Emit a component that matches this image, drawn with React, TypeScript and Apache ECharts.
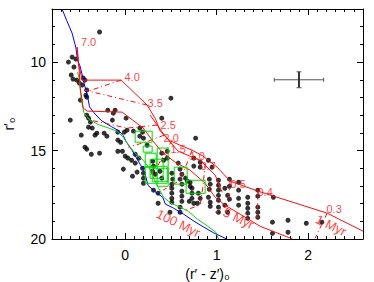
import React, { useEffect, useRef } from "react";
import * as echarts from "echarts";

// ---- axes ----
const xRange = [-0.8, 2.6];
const yRange = [7, 20];
const xMajor = [0, 1, 2];
const yMajor = [10, 15, 20];

// ---- observed stars (r'-z')0 , r'0 ----
const stars: [number, number][] = [
  [-0.28, 8.3], [-0.62, 10.0], [-0.58, 9.72], [-0.54, 9.83], [-0.56, 10.28],
  [-0.59, 10.73], [-0.57, 10.96], [-0.53, 11.02], [-0.46, 10.9], [-0.44, 11.02],
  [-0.5, 11.19], [-0.47, 11.3], [-0.42, 11.58], [-0.43, 11.87], [-0.42, 11.98],
  [-0.49, 12.15], [0.5, 12.04], [-0.19, 12.72], [-0.11, 12.72], [-0.13, 12.89],
  [-0.6, 13.28], [-0.42, 13.0], [-0.4, 13.17], [-0.38, 13.39], [-0.14, 13.28],
  [0.01, 13.17], [0.4, 13.17], [-0.4, 13.68], [-0.36, 13.73], [-0.31, 14.02],
  [-0.33, 14.13], [-0.48, 14.13], [-0.23, 14.02], [-0.2, 14.19], [-0.08, 13.96],
  [-0.01, 13.96], [0.02, 13.85], [0.09, 13.9], [0.16, 13.73], [0.19, 13.96],
  [0.16, 14.19], [0.2, 14.3], [-0.44, 14.81], [-0.42, 14.92], [-0.37, 15.21],
  [-0.28, 15.15], [-0.08, 14.41], [-0.05, 14.53], [-0.08, 15.04], [-0.03, 15.04],
  [0.0, 15.32], [0.03, 15.43], [0.07, 15.55], [0.11, 15.71], [0.11, 15.21],
  [0.15, 15.43], [-0.02, 16.05], [0.08, 16.45], [0.13, 16.22], [0.19, 16.0],
  [0.2, 16.28], [0.2, 16.56], [0.2, 16.85], [0.3, 15.6], [0.31, 15.88],
  [0.3, 16.17], [0.33, 16.34], [0.38, 16.17], [0.4, 16.56], [0.46, 15.04],
  [0.46, 15.43], [0.51, 16.28], [0.52, 16.62], [0.51, 16.9], [0.6, 16.05],
  [0.62, 16.34], [0.6, 16.62], [0.62, 16.9], [0.62, 17.3], [0.62, 17.58],
  [0.62, 17.87], [0.66, 16.56], [0.68, 16.73], [0.77, 14.3], [0.24, 14.7],
  [0.4, 15.15], [0.42, 15.55], [0.58, 15.71], [0.82, 15.66], [0.82, 15.94],
  [0.91, 15.55], [0.95, 15.94], [0.51, 17.13], [0.51, 17.41], [0.51, 17.7],
  [0.51, 17.92], [0.6, 18.2], [0.6, 18.49], [0.71, 16.79], [0.73, 17.13],
  [0.73, 17.41], [0.73, 17.7], [0.8, 17.41], [0.82, 17.7], [0.91, 17.64],
  [0.93, 17.92], [0.31, 17.24], [0.36, 17.41], [0.36, 17.98], [0.49, 18.49],
  [0.79, 17.98], [0.75, 15.43], [0.75, 15.88], [0.71, 17.02], [0.7, 17.87],
  [0.75, 17.98], [0.92, 16.62], [0.93, 16.9], [0.92, 17.19], [0.93, 18.15],
  [1.02, 16.68], [1.02, 16.96], [1.02, 17.24], [1.02, 17.53], [1.02, 17.81],
  [1.02, 18.2], [1.02, 18.49], [1.09, 17.13], [1.12, 17.53], [1.09, 18.09],
  [1.12, 18.49], [1.14, 16.62], [1.14, 17.02], [1.14, 17.75], [1.24, 16.79],
  [1.24, 17.24], [1.24, 17.7], [1.24, 18.09], [1.34, 17.64], [1.34, 17.98],
  [1.34, 18.26], [1.34, 18.54], [1.34, 18.83], [1.45, 17.24], [1.45, 17.58],
  [1.45, 18.2], [1.45, 18.49], [1.45, 18.77], [1.62, 17.64], [1.61, 19.05],
  [1.61, 19.68], [1.78, 18.94], [1.78, 19.62], [1.98, 19.11], [2.15, 19.05],
];

// ---- model tracks ----
const blueTrack: [number, number][] = [
  [-0.69, 7.0], [-0.64, 7.64], [-0.58, 8.37], [-0.54, 9.16], [-0.52, 9.89],
  [-0.49, 10.28], [-0.45, 11.18], [-0.41, 11.97], [-0.39, 12.53], [-0.34, 12.87],
  [-0.26, 13.31], [-0.15, 13.65], [-0.07, 13.88], [-0.02, 14.16], [0.01, 14.49],
  [0.07, 14.94], [0.12, 15.39], [0.17, 15.84], [0.21, 16.18], [0.25, 16.97],
  [0.32, 17.3], [0.41, 17.64], [0.44, 18.03], [0.53, 18.26], [0.64, 18.6],
  [0.75, 18.99], [0.86, 19.33], [0.97, 19.66], [1.11, 20.0],
];
const greenTrack: [number, number][] = [
  [-0.52, 10.56], [-0.5, 11.01], [-0.48, 12.13], [-0.45, 12.87], [-0.39, 13.26],
  [-0.29, 13.54], [-0.19, 13.71], [-0.08, 13.93], [-0.02, 14.27], [0.04, 14.72],
  [0.12, 15.22], [0.2, 15.56], [0.26, 15.96], [0.32, 16.63], [0.36, 17.08],
  [0.42, 17.64], [0.5, 17.98], [0.58, 18.15], [0.69, 18.43], [0.79, 18.88],
  [0.9, 19.27], [0.99, 19.61], [1.02, 20.0],
];
const iso1Myr: [number, number][] = [
  [-0.525, 9.15], [-0.514, 10.0], [-0.47, 11.02], [-0.044, 11.02], [0.24, 12.43],
  [0.33, 13.2], [0.383, 13.9], [0.49, 14.45], [0.601, 14.7], [0.732, 14.98],
  [0.852, 15.32], [1.005, 15.94], [1.148, 16.73], [1.454, 17.3], [2.208, 18.54],
  [2.601, 19.56],
];
const iso2Myr: [number, number][] = [
  [0.273, 13.0], [0.437, 14.19], [0.579, 15.04], [0.82, 15.55], [0.984, 16.39],
  [1.06, 17.36],
];
const iso5Myr: [number, number][] = [
  [-0.525, 9.15], [-0.503, 10.45], [-0.492, 11.47], [-0.459, 12.6], [-0.415, 12.77],
  [-0.033, 12.83], [0.197, 13.73], [0.295, 14.41], [0.404, 15.09], [0.546, 15.66],
  [0.71, 16.11], [0.874, 16.85], [0.984, 17.64], [1.093, 18.09], [1.257, 18.6],
  [1.475, 19.28], [1.83, 20.0],
];
const massTracks: [number, number][][] = [
  [[-0.044, 11.02], [-0.404, 11.64]],
  [[0.24, 12.43], [-0.448, 11.58]],
  [[0.35, 13.56], [0.022, 13.73], [-0.383, 13.28]],
  [[0.426, 14.13], [0.219, 14.53], [0.033, 14.81]],
  [[0.514, 14.41], [0.328, 16.11], [0.219, 16.68]],
  [[0.732, 14.98], [0.601, 16.68], [0.415, 17.24]],
  [[0.874, 15.72], [0.852, 16.96], [0.82, 18.09], [0.656, 18.37]],
  [[1.148, 16.73], [1.126, 18.09], [0.984, 18.49]],
  [[1.454, 17.3], [1.443, 18.83]],
  [[2.208, 18.54], [2.077, 19.96]],
];

// ---- green boxes: centre x, centre y, half width, half height ----
const greenBoxes: [number, number, number, number][] = [
  [0.202, 14.22, 0.093, 0.31],
  [0.246, 14.92, 0.049, 0.17],
  [0.279, 15.55, 0.06, 0.4],
  [0.344, 16.03, 0.071, 0.54],
  [0.41, 15.94, 0.06, 1.08],
  [0.339, 16.37, 0.12, 0.48],
  [0.607, 16.42, 0.071, 0.48],
  [0.77, 17.05, 0.104, 0.37],
  [0.383, 16.37, 0.087, 0.37],
];

// ---- typical error bar: x, y, dx, dy ----
const errorBar: [number, number, number, number][] = [[1.9, 11.0, 0.27, 0.45]];

// ---- labels ----
const massLabels: [number, number, string][] = [
  [-0.4, 8.87, "7.0"], [0.077, 10.85, "4.0"], [0.328, 12.32, "3.5"],
  [0.47, 13.58, "2.5"], [0.503, 14.3, "2.0"], [0.579, 14.9, "1.5"],
  [0.787, 15.3, "1.0"], [0.907, 15.85, "0.7"], [1.235, 16.9, "0.5"],
  [1.53, 17.36, "0.4"], [2.284, 18.32, "0.3"],
];
const ageLabels: [number, number, string][] = [
  [0.58, 19.11, "100 Myr"], [1.24, 18.83, "5 Myr"], [2.25, 19.22, "1 Myr"],
];

const RED = "#ff0c0c";
const FONT = "Liberation Sans, Arial, sans-serif";

function makeX(position: string, major: boolean, labels: boolean): any {
  return {
    type: "value",
    position,
    min: xRange[0],
    max: xRange[1],
    ...(major ? {} : { interval: 0.1 }),
    axisLine: { show: major, onZero: false, lineStyle: { color: "#000", width: 1 } },
    axisTick: major
      ? { show: true, inside: true, length: 6, customValues: xMajor, lineStyle: { color: "#000" } }
      : { show: true, inside: true, length: 3, lineStyle: { color: "#000" } },
    axisLabel: labels
      ? { show: true, customValues: xMajor, color: "#000", fontSize: 14, fontFamily: FONT, margin: 9 }
      : { show: false },
    splitLine: { show: false },
    ...(labels
      ? {
          name: "(r\u2032 - z\u2032)\u2080",
          nameLocation: "middle",
          nameGap: 26,
          nameTextStyle: { color: "#000", fontSize: 14, fontFamily: FONT },
        }
      : {}),
  };
}

function makeY(position: string, major: boolean, labels: boolean): any {
  return {
    type: "value",
    position,
    inverse: true,
    min: yRange[0],
    max: yRange[1],
    ...(major ? {} : { interval: 1 }),
    axisLine: { show: major, onZero: false, lineStyle: { color: "#000", width: 1 } },
    axisTick: major
      ? { show: true, inside: true, length: 6, customValues: yMajor, lineStyle: { color: "#000" } }
      : { show: true, inside: true, length: 3, lineStyle: { color: "#000" } },
    axisLabel: labels
      ? { show: true, customValues: yMajor, color: "#000", fontSize: 14, fontFamily: FONT, margin: 6 }
      : { show: false },
    splitLine: { show: false },
    ...(labels
      ? {
          name: "r\u2032\u2080",
          nameLocation: "middle",
          nameGap: 36,
          nameRotate: 90,
          nameTextStyle: { color: "#000", fontSize: 14, fontFamily: FONT },
        }
      : {}),
  };
}

export default function App() {
  const ref = useRef<HTMLDivElement>(null);
  useEffect(() => {
    document.body.style.margin = "0";
    if (!ref.current) return;
    const chart = echarts.init(ref.current, null, { renderer: "svg" });
    const lineSeries = (data: [number, number][], color: string, type: any = "solid", z = 3) => ({
      type: "line",
      data,
      symbol: "none",
      silent: true,
      lineStyle: { color, width: 1, type },
      z,
    });
    chart.setOption({
      animation: false,
      backgroundColor: "#fff",
      grid: { left: 52, right: 11, top: 9, bottom: 43, containLabel: false, outerBoundsMode: "none" },
      xAxis: [
        makeX("bottom", true, true),
        makeX("bottom", false, false),
        makeX("top", true, false),
        makeX("top", false, false),
      ],
      yAxis: [
        makeY("left", true, true),
        makeY("left", false, false),
        makeY("right", true, false),
        makeY("right", false, false),
      ],
      series: [
        {
          type: "scatter",
          data: stars,
          symbol: "circle",
          symbolSize: 5,
          itemStyle: { color: "#000" },
          silent: true,
          z: 2,
        },
        lineSeries(blueTrack, "#0000ff"),
        lineSeries(greenTrack, "#11cc11"),
        lineSeries(iso1Myr, RED),
        lineSeries(iso2Myr, RED),
        lineSeries(iso5Myr, RED),
        ...massTracks.map((t) => lineSeries(t, RED, [5, 3, 1, 3])),
        {
          type: "custom",
          data: greenBoxes,
          encode: { x: 0, y: 1 },
          silent: true,
          z: 4,
          renderItem: (_p: any, api: any) => {
            const cx = api.value(0), cy = api.value(1), hw = api.value(2), hh = api.value(3);
            const a = api.coord([cx - hw, cy - hh]);
            const b = api.coord([cx + hw, cy + hh]);
            return {
              type: "rect",
              shape: {
                x: Math.min(a[0], b[0]),
                y: Math.min(a[1], b[1]),
                width: Math.abs(b[0] - a[0]),
                height: Math.abs(b[1] - a[1]),
              },
              style: { fill: "none", stroke: "#00dd00", lineWidth: 1 },
            };
          },
        },
        {
          type: "custom",
          data: errorBar,
          encode: { x: 0, y: 1 },
          silent: true,
          z: 4,
          renderItem: (_p: any, api: any) => {
            const cx = api.value(0), cy = api.value(1), dx = api.value(2), dy = api.value(3);
            const l = api.coord([cx - dx, cy]);
            const r = api.coord([cx + dx, cy]);
            const t = api.coord([cx, cy - dy]);
            const b = api.coord([cx, cy + dy]);
            const st = { stroke: "#555", lineWidth: 1 };
            return {
              type: "group",
              children: [
                { type: "line", shape: { x1: l[0], y1: l[1], x2: r[0], y2: r[1] }, style: st },
                { type: "line", shape: { x1: l[0], y1: l[1] - 2, x2: l[0], y2: l[1] + 2 }, style: st },
                { type: "line", shape: { x1: r[0], y1: r[1] - 2, x2: r[0], y2: r[1] + 2 }, style: st },
                { type: "line", shape: { x1: t[0], y1: t[1], x2: b[0], y2: b[1] }, style: { stroke: "#333", lineWidth: 2 } },
                { type: "line", shape: { x1: t[0] - 2.5, y1: t[1], x2: t[0] + 2.5, y2: t[1] }, style: st },
                { type: "line", shape: { x1: b[0] - 2.5, y1: b[1], x2: b[0] + 2.5, y2: b[1] }, style: st },
              ],
            };
          },
        },
        {
          type: "scatter",
          symbolSize: 0,
          silent: true,
          z: 6,
          data: massLabels.map(([x, y, t]) => ({ value: [x, y], name: t })),
          label: {
            show: true,
            position: "inside",
            formatter: "{b}",
            color: RED,
            fontSize: 11,
            lineHeight: 11,
            fontFamily: FONT,
          },
        },
        {
          type: "scatter",
          symbolSize: 0,
          silent: true,
          z: 6,
          data: ageLabels.map(([x, y, t]) => ({ value: [x, y], name: t })),
          label: {
            show: true,
            position: "inside",
            formatter: "{b}",
            color: RED,
            fontSize: 13,
            rotate: -26,
            fontFamily: FONT,
          },
        },
      ],
    });
    return () => chart.dispose();
  }, []);
  return <div ref={ref} style={{ width: 374, height: 282 }} />;
}
